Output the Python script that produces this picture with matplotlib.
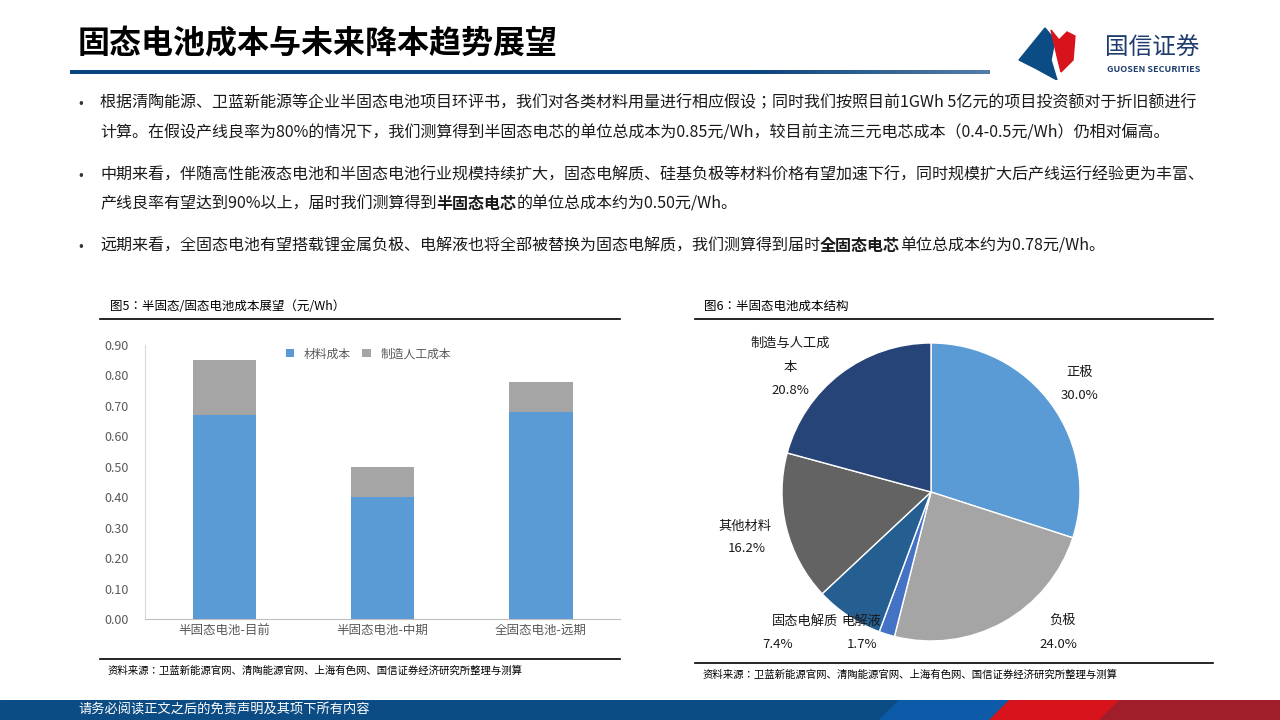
import matplotlib
matplotlib.use("Agg")
import matplotlib.pyplot as plt
import numpy as np
from matplotlib.patches import Rectangle, Polygon

plt.rcParams["font.family"] = "Noto Sans CJK JP"

categories = ["半固态电池-目前", "半固态电池-中期", "全固态电池-远期"]
material = [0.67, 0.40, 0.68]
labor = [0.18, 0.10, 0.10]
yticks = [0.0, 0.1, 0.2, 0.3, 0.4, 0.5, 0.6, 0.7, 0.8, 0.9]

pie_labels = ["正极", "负极", "电解液", "固态电解质", "其他材料", "制造与人工成本"]
pie_values = [30.0, 24.0, 1.7, 7.4, 16.2, 20.8]
pie_colors = ["#5B9BD5", "#A5A5A5", "#4472C4", "#255E91", "#636363", "#264478"]

W, H = 1280, 720
fig = plt.figure(figsize=(12.8, 7.2), dpi=100)

def fx(x): return x / W
def fy(y): return 1 - y / H

# header
fig.text(fx(78), fy(44), "固态电池成本与未来降本趋势展望", fontsize=23, fontweight="bold",
         va="center", ha="left", color="black")
grad = fig.add_axes([fx(70), fy(74), fx(920), 4 / H])
g = np.linspace(0, 1, 256)
cols = np.array([[0.05, 0.27, 0.5]] * 256)
mix = np.clip((g - 0.75) / 0.25, 0, 1)[:, None] * 0.3
cols = cols * (1 - mix) + mix
grad.imshow(cols[None, :, :], aspect="auto")
grad.axis("off")

# logo
logo = fig.add_axes([fx(1015), fy(80), fx(85), 55 / H])
logo.set_xlim(0, 85); logo.set_ylim(0, 55); logo.axis("off")
logo.add_patch(Polygon([[4, 20], [30, 52], [40, 40], [36, 20], [42, 0], [20, 12]], color="#0B4C84"))
logo.add_patch(Polygon([[36, 50], [44, 40], [52, 48], [60, 44], [58, 20], [46, 8], [42, 24]], color="#D7141C"))
fig.text(fx(1105), fy(47), "国信证券", fontsize=17, color="#1F3C6E", va="center")
fig.text(fx(1107), fy(70), "GUOSEN SECURITIES", fontsize=6.5, color="#1F3C6E", va="center", fontweight="bold")

# body text
def seg_text(x, y, segments, fs=11.55):
    r = fig.canvas.get_renderer()
    for s, bold in segments:
        t = fig.text(fx(x), fy(y), s, fontsize=fs, va="center", ha="left",
                     fontweight="bold" if bold else "normal", color="#1a1a1a")
        bb = t.get_window_extent(renderer=r)
        x += bb.width

bul = [103, 175, 246]
for yb in bul:
    fig.text(fx(78), fy(yb), "•", fontsize=10, va="center", color="#333333")
seg_text(100, 103, [("根据清陶能源、卫蓝新能源等企业半固态电池项目环评书，我们对各类材料用量进行相应假设；同时我们按照目前1GWh 5亿元的项目投资额对于折旧额进行", False)])
seg_text(100, 133, [("计算。在假设产线良率为80%的情况下，我们测算得到半固态电芯的单位总成本为0.85元/Wh，较目前主流三元电芯成本（0.4-0.5元/Wh）仍相对偏高。", False)])
seg_text(100, 175, [("中期来看，伴随高性能液态电池和半固态电池行业规模持续扩大，固态电解质、硅基负极等材料价格有望加速下行，同时规模扩大后产线运行经验更为丰富、", False)])
seg_text(100, 204, [("产线良率有望达到90%以上，届时我们测算得到", False), ("半固态电芯", True), ("的单位总成本约为0.50元/Wh。", False)])
seg_text(100, 246, [("远期来看，全固态电池有望搭载锂金属负极、电解液也将全部被替换为固态电解质，我们测算得到届时", False), ("全固态电芯", True), ("单位总成本约为0.78元/Wh。", False)])

# chart titles & rules
def hline(x0, x1, y, lw=1.2, c="black"):
    fig.add_artist(plt.Line2D([fx(x0), fx(x1)], [fy(y), fy(y)], color=c, lw=lw))
fig.text(fx(110), fy(306), "图5：半固态/固态电池成本展望（元/Wh）", fontsize=9, va="center")
hline(100, 620, 319)
fig.text(fx(704), fy(306), "图6：半固态电池成本结构", fontsize=9, va="center")
hline(695, 1213, 319)
hline(100, 620, 659)
fig.text(fx(108), fy(671), "资料来源：卫蓝新能源官网、清陶能源官网、上海有色网、国信证券经济研究所整理与测算", fontsize=7.5, va="center")
hline(695, 1213, 663)
fig.text(fx(703), fy(675), "资料来源：卫蓝新能源官网、清陶能源官网、上海有色网、国信证券经济研究所整理与测算", fontsize=7.5, va="center")

# bar chart
ax = fig.add_axes([fx(145), fy(619), fx(475), 274 / H])
x = np.arange(len(categories))
ax.bar(x, material, width=0.4, color="#5B9BD5", label="材料成本")
ax.bar(x, labor, width=0.4, bottom=material, color="#A5A5A5", label="制造人工成本")
ax.set_xlim(-0.5, 2.5); ax.set_ylim(0, 0.9)
ax.set_yticks(yticks)
ax.set_yticklabels([f"{v:.2f}" for v in yticks])
ax.set_xticks(x); ax.set_xticklabels(categories)
ax.tick_params(axis="both", labelsize=9, colors="#595959", length=0)
ax.tick_params(axis="y", pad=12)
for s in ["top", "right"]:
    ax.spines[s].set_visible(False)
ax.spines["left"].set_color("#D9D9D9")
ax.spines["bottom"].set_color("#BFBFBF")
ax.legend(loc="upper center", bbox_to_anchor=(0.47, 1.03), ncol=2, frameon=False,
          fontsize=8.5, handlelength=0.7, handleheight=0.7, columnspacing=1.0,
          labelcolor="#595959")

# pie
r = 149
pax = fig.add_axes([fx(931 - r), fy(492 + r), fx(2 * r), 2 * r / H])
pax.pie(pie_values, colors=pie_colors, startangle=90, counterclock=False, radius=1,
        wedgeprops=dict(edgecolor="white", linewidth=1))
pax.set_xlim(-1, 1); pax.set_ylim(-1, 1)
pax.set_aspect("equal")
pl = [("正极", 1080, 372, "center"), ("30.0%", 1080, 395, "center"),
      ("负极", 1063, 620, "center"), ("24.0%", 1058, 644, "center"),
      ("电解液", 841, 621, "left"), ("1.7%", 862, 644, "center"),
      ("固态电解质", 838, 621, "right"), ("7.4%", 778, 644, "center"),
      ("其他材料", 745, 526, "center"), ("16.2%", 747, 549, "center"),
      ("制造与人工成", 790, 343, "center"), ("本", 790, 367, "center"),
      ("20.8%", 790, 390, "center")]
for t, px, py, ha in pl:
    fig.text(fx(px), fy(py), t, fontsize=9.5, ha=ha, va="center", color="#1a1a1a")

# footer
fax = fig.add_axes([0, 0, 1, 20 / H])
fax.set_xlim(0, W); fax.set_ylim(0, 20); fax.axis("off")
fax.add_patch(Rectangle((0, 0), W, 20, color="#0B4C84"))
fax.add_patch(Polygon([[880, 0], [900, 20], [1010, 20], [990, 0]], color="#0D5BA8"))
fax.add_patch(Polygon([[990, 0], [1010, 20], [1120, 20], [1100, 0]], color="#D7141C"))
fax.add_patch(Polygon([[1100, 0], [1120, 20], [W, 20], [W, 0]], color="#A01E2A"))
fig.text(fx(78), fy(710), "请务必阅读正文之后的免责声明及其项下所有内容", fontsize=9.5, color="white", va="center")

fig.savefig("out.png", dpi=100)
